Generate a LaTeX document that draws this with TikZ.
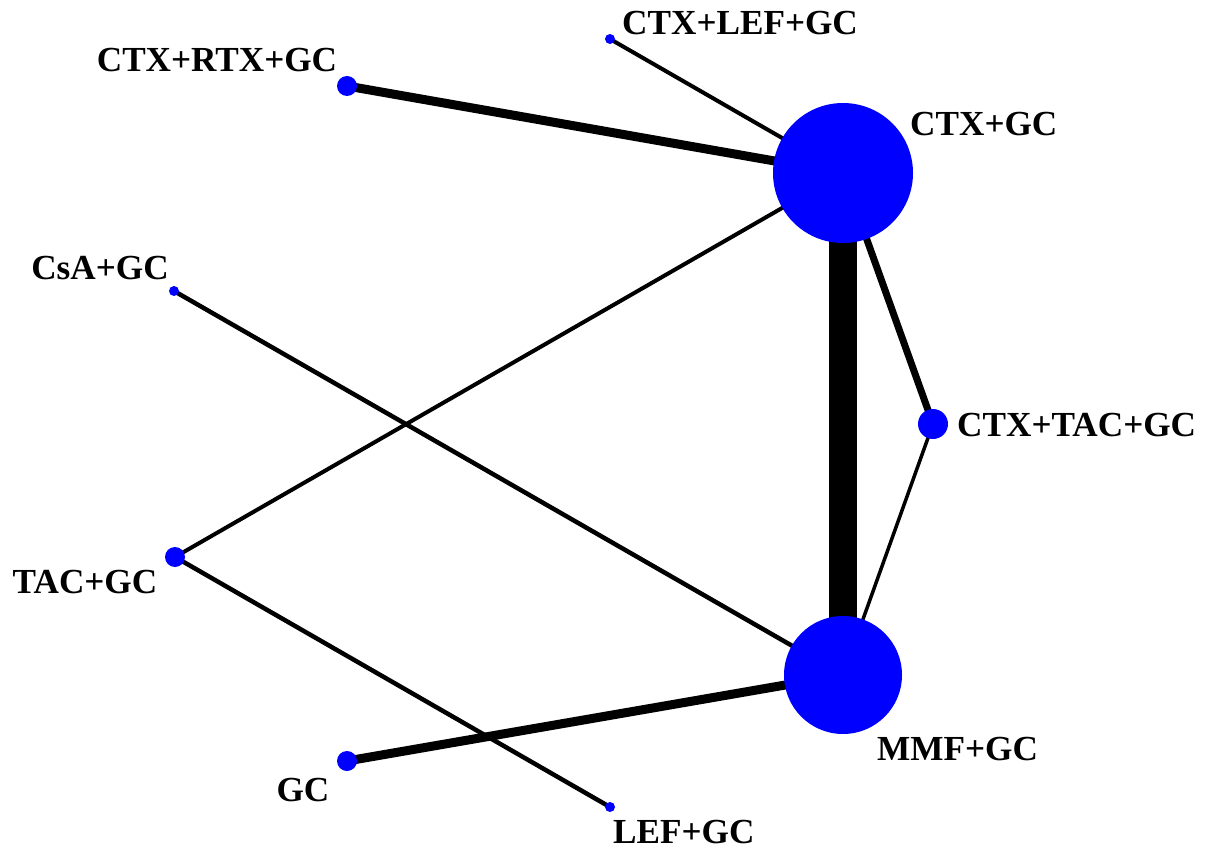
\documentclass[tikz,border=0pt]{standalone}
\usepackage{fontspec}
\setmainfont{Liberation Serif}
\usetikzlibrary{backgrounds}
\begin{document}
\begin{tikzpicture}[x=1pt,y=-1pt,
  dot/.style={circle,fill=blue,draw=none,inner sep=0pt,minimum size=#1},
  lbl/.style={inner sep=0pt,font=\fontsize{35.2}{40}\selectfont\bfseries},
  edge/.style={line width=#1,black}]
\useasboundingbox (0,0) rectangle (1205,861);
% treatment nodes
\node[dot=140pt] (ctxgc)  at (843,173) {};
\node[dot=118pt] (mmfgc)  at (843,675) {};
\node[dot=30pt]  (ctxtac) at (933,424) {};
\node[dot=10pt]  (ctxlef) at (610,39) {};
\node[dot=20pt]  (ctxrtx) at (347,86) {};
\node[dot=10pt]  (csagc)  at (174,291) {};
\node[dot=20pt]  (tacgc)  at (175,557) {};
\node[dot=20pt]  (gc)     at (347,761) {};
\node[dot=10pt]  (lefgc)  at (610,807) {};
% labels
\node[lbl,anchor=west] (lctxlef) at (622,23) {CTX+LEF+GC};
\node[lbl] (lctxrtx) at (217,60) {CTX+RTX+GC};
\node[lbl,anchor=west] (lctxgc) at (910,124) {CTX+GC};
\node[lbl] (lcsagc) at (100,268) {CsA+GC};
\node[lbl,anchor=west] (lctxtac) at (957,425) {CTX+TAC+GC};
\node[lbl] (ltacgc) at (85,582) {TAC+GC};
\node[lbl] (lgc) at (303,790) {GC};
\node[lbl,anchor=west] (llefgc) at (613,832) {LEF+GC};
\node[lbl,anchor=west] (lmmfgc) at (877,749) {MMF+GC};
% connectors
\begin{scope}[on background layer]
\draw[edge=28pt] (ctxgc.center) -- (mmfgc.center);
\draw[edge=9pt] (ctxgc.center) -- (ctxrtx.center);
\draw[edge=4pt] (ctxgc.center) -- (ctxlef.center);
\draw[edge=7pt] (ctxgc.center) -- (ctxtac.center);
\draw[edge=3.5pt] (ctxtac.center) -- (mmfgc.center);
\draw[edge=4pt] (ctxgc.center) -- (tacgc.center);
\draw[edge=4.5pt] (csagc.center) -- (mmfgc.center);
\draw[edge=4.5pt] (tacgc.center) -- (lefgc.center);
\draw[edge=9pt] (gc.center) -- (mmfgc.center);
\end{scope}
\end{tikzpicture}
\end{document}
